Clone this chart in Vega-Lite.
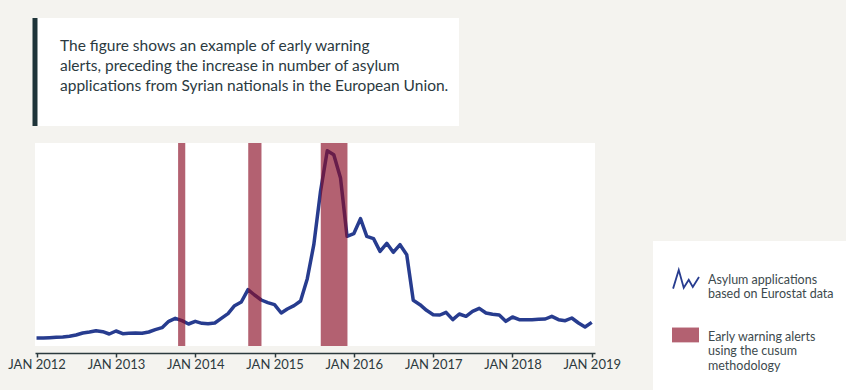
{
  "$schema": "https://vega.github.io/schema/vega-lite/v6.json",
  "background": "#f4f3ef",
  "padding": {"left": 7, "top": 15, "right": 193, "bottom": 17},
  "bounds": "flush",
  "spacing": 17,
  "config": {"view": {"stroke": null}, "font": "Lato"},
  "vconcat": [
    {
      "width": 424,
      "height": 108,
      "view": {"fill": "#ffffff", "stroke": "#1e3439", "strokeWidth": 5, "strokeDash": [0, 956, 108]},
      "title": {
        "text": ["The figure shows an example of early warning", "alerts, preceding the increase in number of asylum", "applications from Syrian nationals in the European Union."],
        "orient": "top",
        "anchor": "start",
        "frame": "group",
        "offset": -76,
        "dx": 25,
        "font": "Lato",
        "fontSize": 15.5,
        "fontWeight": "normal",
        "color": "#2b3a3f",
        "lineHeight": 20
      },
      "data": {"values": [{}]},
      "mark": {"type": "text"},
      "encoding": {"text": {"value": ""}}
    },
    {
      "width": 560,
      "height": 203,
      "view": {"fill": "#ffffff", "stroke": null},
      "layer": [
        {
          "data": {
            "values": [
              {"month": "2012-01-01", "applications": 2400, "series": "asylum"},
              {"month": "2012-02-01", "applications": 2400, "series": "asylum"},
              {"month": "2012-03-01", "applications": 2500, "series": "asylum"},
              {"month": "2012-04-01", "applications": 2600, "series": "asylum"},
              {"month": "2012-05-01", "applications": 2700, "series": "asylum"},
              {"month": "2012-06-01", "applications": 2900, "series": "asylum"},
              {"month": "2012-07-01", "applications": 3300, "series": "asylum"},
              {"month": "2012-08-01", "applications": 3900, "series": "asylum"},
              {"month": "2012-09-01", "applications": 4200, "series": "asylum"},
              {"month": "2012-10-01", "applications": 4600, "series": "asylum"},
              {"month": "2012-11-01", "applications": 4300, "series": "asylum"},
              {"month": "2012-12-01", "applications": 3600, "series": "asylum"},
              {"month": "2013-01-01", "applications": 4500, "series": "asylum"},
              {"month": "2013-02-01", "applications": 3700, "series": "asylum"},
              {"month": "2013-03-01", "applications": 3800, "series": "asylum"},
              {"month": "2013-04-01", "applications": 3900, "series": "asylum"},
              {"month": "2013-05-01", "applications": 3800, "series": "asylum"},
              {"month": "2013-06-01", "applications": 4200, "series": "asylum"},
              {"month": "2013-07-01", "applications": 4900, "series": "asylum"},
              {"month": "2013-08-01", "applications": 5500, "series": "asylum"},
              {"month": "2013-09-01", "applications": 7400, "series": "asylum"},
              {"month": "2013-10-01", "applications": 8300, "series": "asylum"},
              {"month": "2013-11-01", "applications": 7600, "series": "asylum"},
              {"month": "2013-12-01", "applications": 6600, "series": "asylum"},
              {"month": "2014-01-01", "applications": 7400, "series": "asylum"},
              {"month": "2014-02-01", "applications": 6800, "series": "asylum"},
              {"month": "2014-03-01", "applications": 6700, "series": "asylum"},
              {"month": "2014-04-01", "applications": 6900, "series": "asylum"},
              {"month": "2014-05-01", "applications": 8300, "series": "asylum"},
              {"month": "2014-06-01", "applications": 9700, "series": "asylum"},
              {"month": "2014-07-01", "applications": 12100, "series": "asylum"},
              {"month": "2014-08-01", "applications": 13200, "series": "asylum"},
              {"month": "2014-09-01", "applications": 16900, "series": "asylum"},
              {"month": "2014-10-01", "applications": 15300, "series": "asylum"},
              {"month": "2014-11-01", "applications": 13800, "series": "asylum"},
              {"month": "2014-12-01", "applications": 13000, "series": "asylum"},
              {"month": "2015-01-01", "applications": 12400, "series": "asylum"},
              {"month": "2015-02-01", "applications": 9900, "series": "asylum"},
              {"month": "2015-03-01", "applications": 11100, "series": "asylum"},
              {"month": "2015-04-01", "applications": 12100, "series": "asylum"},
              {"month": "2015-05-01", "applications": 13500, "series": "asylum"},
              {"month": "2015-06-01", "applications": 20200, "series": "asylum"},
              {"month": "2015-07-01", "applications": 30400, "series": "asylum"},
              {"month": "2015-08-01", "applications": 46400, "series": "asylum"},
              {"month": "2015-09-01", "applications": 58600, "series": "asylum"},
              {"month": "2015-10-01", "applications": 57400, "series": "asylum"},
              {"month": "2015-11-01", "applications": 50400, "series": "asylum"},
              {"month": "2015-12-01", "applications": 32900, "series": "asylum"},
              {"month": "2016-01-01", "applications": 33700, "series": "asylum"},
              {"month": "2016-02-01", "applications": 38200, "series": "asylum"},
              {"month": "2016-03-01", "applications": 32900, "series": "asylum"},
              {"month": "2016-04-01", "applications": 32200, "series": "asylum"},
              {"month": "2016-05-01", "applications": 28400, "series": "asylum"},
              {"month": "2016-06-01", "applications": 30800, "series": "asylum"},
              {"month": "2016-07-01", "applications": 28100, "series": "asylum"},
              {"month": "2016-08-01", "applications": 30400, "series": "asylum"},
              {"month": "2016-09-01", "applications": 27400, "series": "asylum"},
              {"month": "2016-10-01", "applications": 13700, "series": "asylum"},
              {"month": "2016-11-01", "applications": 12400, "series": "asylum"},
              {"month": "2016-12-01", "applications": 10700, "series": "asylum"},
              {"month": "2017-01-01", "applications": 9400, "series": "asylum"},
              {"month": "2017-02-01", "applications": 9300, "series": "asylum"},
              {"month": "2017-03-01", "applications": 10100, "series": "asylum"},
              {"month": "2017-04-01", "applications": 7900, "series": "asylum"},
              {"month": "2017-05-01", "applications": 9600, "series": "asylum"},
              {"month": "2017-06-01", "applications": 8900, "series": "asylum"},
              {"month": "2017-07-01", "applications": 10400, "series": "asylum"},
              {"month": "2017-08-01", "applications": 11300, "series": "asylum"},
              {"month": "2017-09-01", "applications": 9900, "series": "asylum"},
              {"month": "2017-10-01", "applications": 9500, "series": "asylum"},
              {"month": "2017-11-01", "applications": 9300, "series": "asylum"},
              {"month": "2017-12-01", "applications": 7400, "series": "asylum"},
              {"month": "2018-01-01", "applications": 8700, "series": "asylum"},
              {"month": "2018-02-01", "applications": 7900, "series": "asylum"},
              {"month": "2018-03-01", "applications": 7900, "series": "asylum"},
              {"month": "2018-04-01", "applications": 7900, "series": "asylum"},
              {"month": "2018-05-01", "applications": 8000, "series": "asylum"},
              {"month": "2018-06-01", "applications": 8100, "series": "asylum"},
              {"month": "2018-07-01", "applications": 8900, "series": "asylum"},
              {"month": "2018-08-01", "applications": 7900, "series": "asylum"},
              {"month": "2018-09-01", "applications": 7600, "series": "asylum"},
              {"month": "2018-10-01", "applications": 8400, "series": "asylum"},
              {"month": "2018-11-01", "applications": 6900, "series": "asylum"},
              {"month": "2018-12-01", "applications": 5700, "series": "asylum"},
              {"month": "2019-01-01", "applications": 7100, "series": "asylum"}
            ]
          },
          "mark": {"type": "line", "strokeWidth": 3.5, "strokeJoin": "round"},
          "encoding": {
            "x": {
              "field": "month",
              "type": "temporal",
              "scale": {
                "type": "utc",
                "domain": [
                  {"year": 2011, "month": 12, "date": 25, "utc": true},
                  {"year": 2019, "month": 1, "date": 16, "utc": true}
                ],
                "nice": false
              },
              "axis": {
                "title": null,
                "grid": false,
                "offset": 7,
                "domainColor": "#2b3a3e",
                "domainWidth": 1.5,
                "tickColor": "#2b3a3e",
                "tickWidth": 1.5,
                "tickSize": 4,
                "tickCount": {"interval": "year", "step": 1},
                "labelExpr": "upper(utcFormat(datum.value, '%b %Y'))",
                "labelFont": "Lato",
                "labelFontSize": 13,
                "labelColor": "#2d3a3e",
                "labelPadding": 1,
                "labelFlush": false,
                "labelOverlap": false
              }
            },
            "y": {
              "field": "applications",
              "type": "quantitative",
              "scale": {"domain": [0, 60900], "nice": false},
              "axis": null
            },
            "stroke": {
              "field": "series",
              "type": "nominal",
              "scale": {"domain": ["asylum"], "range": ["#273c8f"]},
              "legend": {
                "orient": "none",
                "legendX": 618,
                "legendY": 223,
                "fillColor": "#ffffff",
                "padding": 18,
                "title": null,
                "symbolType": "M-0.92,1.12L-0.5,-0.26L-0.13,1.06L0.24,0.47L0.54,1L1,0.26",
                "symbolSize": 729,
                "symbolStrokeWidth": 1.8,
                "symbolFillColor": "transparent",
                "labelFont": "Lato",
                "labelFontSize": 12.5,
                "labelColor": "#3d4a4e",
                "labelLimit": 300,
                "labelOffset": 8,
                "labelBaseline": "top",
                "labelExpr": "['Asylum applications', 'based on Eurostat data', '\u00a0', '\u00a0', '\u00a0', '\u00a0', '\u00a0', '\u00a0']"
              }
            }
          }
        },
        {
          "data": {
            "values": [
              {"start": "2013-10-14", "end": "2013-11-16", "series": "alert"},
              {"start": "2014-09-02", "end": "2014-11-02", "series": "alert"},
              {"start": "2015-08-02", "end": "2015-12-03", "series": "alert"}
            ]
          },
          "mark": {"type": "rect", "opacity": 0.65},
          "encoding": {
            "x": {"field": "start", "type": "temporal"},
            "x2": {"field": "end"},
            "fill": {
              "field": "series",
              "type": "nominal",
              "scale": {"domain": ["alert"], "range": ["#8a0d25"]},
              "legend": {
                "orient": "none",
                "legendX": 618,
                "legendY": 280,
                "padding": 18,
                "title": null,
                "symbolType": "M-1,-0.22L1,-0.22L1,0.88L-1,0.88Z",
                "symbolSize": 729,
                "labelFont": "Lato",
                "labelFontSize": 12.5,
                "labelColor": "#3d4a4e",
                "labelLimit": 300,
                "labelOffset": 8,
                "labelBaseline": "top",
                "labelExpr": "['Early warning alerts', 'using the cusum', 'methodology']"
              }
            }
          }
        }
      ]
    }
  ]
}
